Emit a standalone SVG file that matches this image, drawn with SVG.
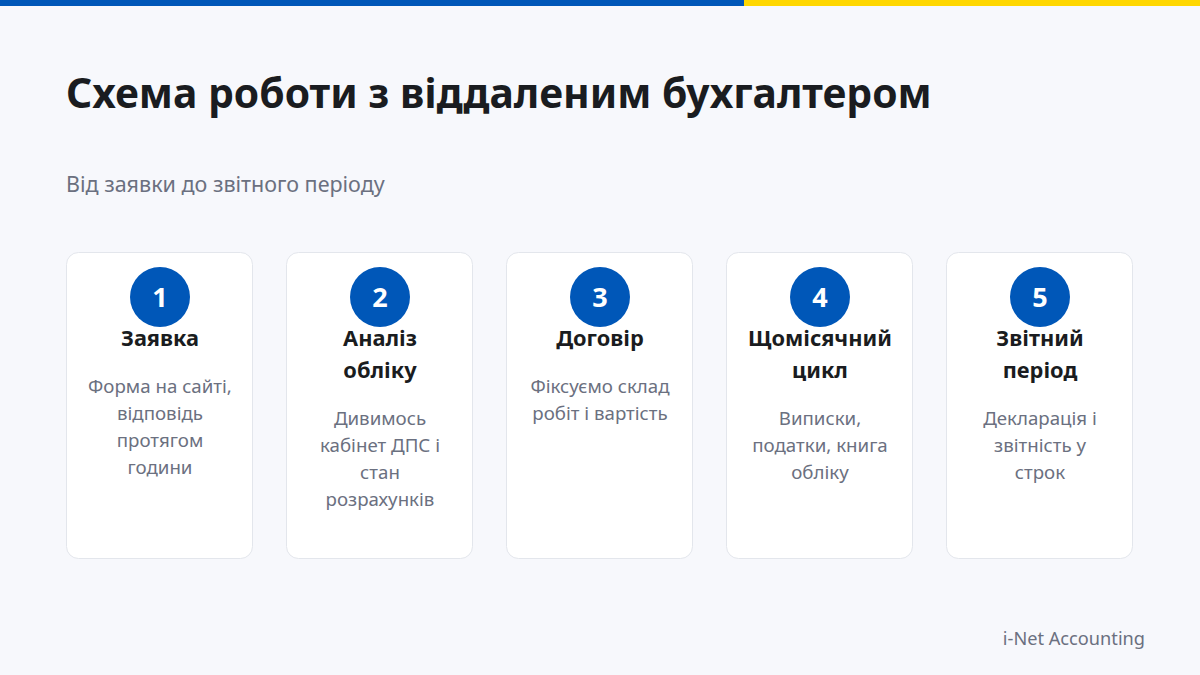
<svg xmlns="http://www.w3.org/2000/svg" width="1200" height="675" viewBox="0 0 1200 675">
<style>
.card{fill:#ffffff;stroke:#e3e6ec;stroke-width:1}
.num{fill:#0057b8}
.numt{font-family:"Noto Sans","Open Sans",sans-serif;font-weight:700;font-size:27px;fill:#ffffff;text-anchor:middle}
.ttl{font-family:"Noto Sans","Open Sans",sans-serif;font-weight:700;font-size:21.8px;fill:#1a1c20;text-anchor:middle}
.dsc{font-family:"Noto Sans","Open Sans",sans-serif;font-size:18.7px;fill:#6b7080;text-anchor:middle}
</style>
<rect width="1200" height="675" fill="#f7f8fc"/>
<rect x="0" y="0" width="744" height="6" fill="#0057b8"/>
<rect x="744" y="0" width="456" height="6" fill="#ffd700"/>
<text x="66" y="108" font-family="'Noto Sans','Open Sans',sans-serif" font-weight="700" font-size="40.8" fill="#1a1c20">Схема роботи з віддаленим бухгалтером</text>
<text x="66" y="192" font-family="'Noto Sans','Open Sans',sans-serif" font-size="21.5" fill="#6b7080">Від заявки до звітного періоду</text>
<g id="step1">
<rect class="card" x="66.5" y="252.5" width="186" height="306" rx="12"/>
<circle class="num" cx="160" cy="297" r="30"/>
<text class="numt" x="160" y="306.5">1</text>
<text class="ttl" x="160" y="346">Заявка</text>
<text class="dsc" x="160" y="393">Форма на сайті,</text>
<text class="dsc" x="160" y="420">відповідь</text>
<text class="dsc" x="160" y="447">протягом</text>
<text class="dsc" x="160" y="474">години</text>
</g>
<g id="step2">
<rect class="card" x="286.5" y="252.5" width="186" height="306" rx="12"/>
<circle class="num" cx="380" cy="297" r="30"/>
<text class="numt" x="380" y="306.5">2</text>
<text class="ttl" x="380" y="346">Аналіз</text>
<text class="ttl" x="380" y="378">обліку</text>
<text class="dsc" x="380" y="425">Дивимось</text>
<text class="dsc" x="380" y="452">кабінет ДПС і</text>
<text class="dsc" x="380" y="479">стан</text>
<text class="dsc" x="380" y="506">розрахунків</text>
</g>
<g id="step3">
<rect class="card" x="506.5" y="252.5" width="186" height="306" rx="12"/>
<circle class="num" cx="600" cy="297" r="30"/>
<text class="numt" x="600" y="306.5">3</text>
<text class="ttl" x="600" y="346">Договір</text>
<text class="dsc" x="600" y="393">Фіксуємо склад</text>
<text class="dsc" x="600" y="420">робіт і вартість</text>
</g>
<g id="step4">
<rect class="card" x="726.5" y="252.5" width="186" height="306" rx="12"/>
<circle class="num" cx="820" cy="297" r="30"/>
<text class="numt" x="820" y="306.5">4</text>
<text class="ttl" x="820" y="346">Щомісячний</text>
<text class="ttl" x="820" y="378">цикл</text>
<text class="dsc" x="820" y="425">Виписки,</text>
<text class="dsc" x="820" y="452">податки, книга</text>
<text class="dsc" x="820" y="479">обліку</text>
</g>
<g id="step5">
<rect class="card" x="946.5" y="252.5" width="186" height="306" rx="12"/>
<circle class="num" cx="1040" cy="297" r="30"/>
<text class="numt" x="1040" y="306.5">5</text>
<text class="ttl" x="1040" y="346">Звітний</text>
<text class="ttl" x="1040" y="378">період</text>
<text class="dsc" x="1040" y="425">Декларація і</text>
<text class="dsc" x="1040" y="452">звітність у</text>
<text class="dsc" x="1040" y="479">строк</text>
</g>
<g id="connectors"></g>
<text x="1145" y="645" text-anchor="end" font-family="'Noto Sans','Open Sans',sans-serif" font-size="18.2" fill="#6b7080">i-Net Accounting</text>
</svg>
